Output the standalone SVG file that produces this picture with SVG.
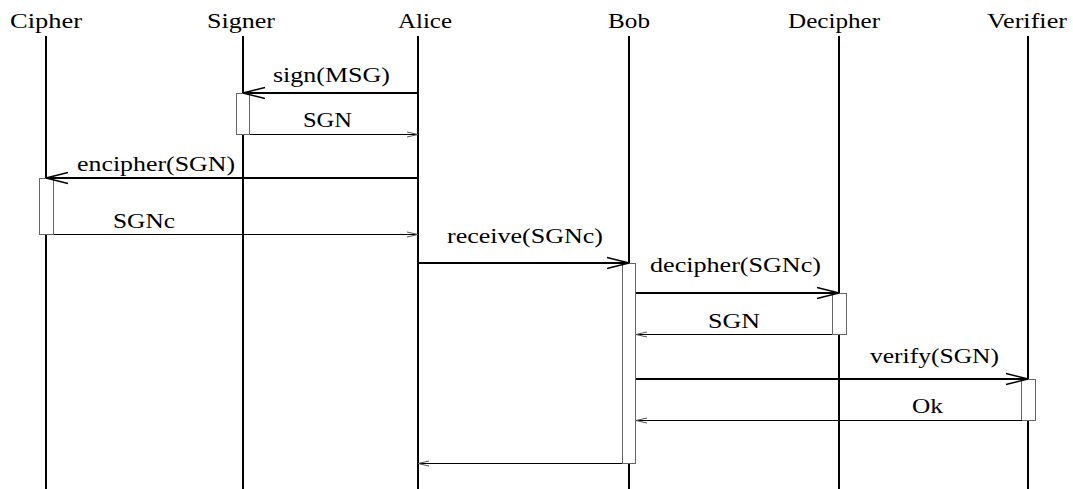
<svg xmlns="http://www.w3.org/2000/svg" width="1073" height="489" viewBox="0 0 1073 489">
  <style>
    text { font-size: 22px; fill: #000; }
    .life { stroke: #000; stroke-width: 2; }
    .act { fill: #fff; stroke: #666; stroke-width: 1; }
    .call { stroke: #000; stroke-width: 2; fill: none; marker-end: url(#callHead); }
    .ret { stroke: #000; stroke-width: 1; fill: none; marker-end: url(#retHead); }
  </style>
  <defs>
    <marker id="callHead" markerUnits="userSpaceOnUse" orient="auto" markerWidth="30" markerHeight="16" refX="24" refY="8" viewBox="0 0 30 16" overflow="visible">
      <path d="M 2 2.5 L 24 8 L 2 13.5" fill="none" stroke="#000" stroke-width="1.5"/>
    </marker>
    <marker id="retHead" markerUnits="userSpaceOnUse" orient="auto" markerWidth="16" markerHeight="8" refX="12" refY="4" viewBox="0 0 16 8" overflow="visible">
      <path d="M 1 1.5 L 12 4 L 1 6.5" fill="none" stroke="#555" stroke-width="1"/>
    </marker>
  </defs>
  <rect width="1073" height="489" fill="#fff"/>

  <g font-family="'Liberation Serif', 'Times New Roman', 'DejaVu Serif', serif">
  <!-- participants -->
  <g id="cipher">
    <text x="10" y="28" textLength="72" lengthAdjust="spacingAndGlyphs">Cipher</text>
    <line class="life" x1="46" y1="36" x2="46" y2="489"/>
  </g>
  <g id="signer">
    <text x="207" y="28" textLength="68" lengthAdjust="spacingAndGlyphs">Signer</text>
    <line class="life" x1="243" y1="36" x2="243" y2="489"/>
  </g>
  <g id="alice">
    <text x="398" y="28" textLength="54" lengthAdjust="spacingAndGlyphs">Alice</text>
    <line class="life" x1="418" y1="36" x2="418" y2="489"/>
  </g>
  <g id="bob">
    <text x="608" y="28" textLength="42" lengthAdjust="spacingAndGlyphs">Bob</text>
    <line class="life" x1="629" y1="36" x2="629" y2="489"/>
  </g>
  <g id="decipher">
    <text x="788" y="28" textLength="92" lengthAdjust="spacingAndGlyphs">Decipher</text>
    <line class="life" x1="839" y1="36" x2="839" y2="489"/>
  </g>
  <g id="verifier">
    <text x="987" y="28" textLength="80" lengthAdjust="spacingAndGlyphs">Verifier</text>
    <line class="life" x1="1028" y1="36" x2="1028" y2="489"/>
  </g>

  <!-- activation bars -->
  <g id="activations">
    <rect class="act" x="236.5" y="93.5" width="13" height="41"/>
    <rect class="act" x="39.5" y="178.5" width="14" height="56"/>
    <rect class="act" x="622.5" y="263.5" width="13" height="200"/>
    <rect class="act" x="832.5" y="293.5" width="14" height="41"/>
    <rect class="act" x="1021.5" y="379.5" width="14" height="41"/>
  </g>

  <!-- messages -->
  <g id="connectors">
    <line class="call" x1="418" y1="93" x2="243" y2="93"/>
    <line class="ret" x1="250" y1="134.5" x2="418" y2="134.5"/>
    <line class="call" x1="418" y1="178" x2="46" y2="178"/>
    <line class="ret" x1="54" y1="234.5" x2="418" y2="234.5"/>
    <line class="call" x1="418" y1="263" x2="629" y2="263"/>
    <line class="call" x1="636" y1="293" x2="839" y2="293"/>
    <line class="ret" x1="832" y1="334.5" x2="636" y2="334.5"/>
    <line class="call" x1="636" y1="379" x2="1028" y2="379"/>
    <line class="ret" x1="1022" y1="420.5" x2="636" y2="420.5"/>
    <line class="ret" x1="622" y1="463.5" x2="418" y2="463.5"/>
  </g>

  <g id="labels">
    <text x="273" y="82" textLength="117" lengthAdjust="spacingAndGlyphs">sign(MSG)</text>
    <text x="303" y="127" textLength="49" lengthAdjust="spacingAndGlyphs">SGN</text>
    <text x="77" y="171" textLength="158" lengthAdjust="spacingAndGlyphs">encipher(SGN)</text>
    <text x="113" y="228" textLength="62" lengthAdjust="spacingAndGlyphs">SGNc</text>
    <text x="447" y="243" textLength="156" lengthAdjust="spacingAndGlyphs">receive(SGNc)</text>
    <text x="650" y="272" textLength="171" lengthAdjust="spacingAndGlyphs">decipher(SGNc)</text>
    <text x="708" y="328" textLength="52" lengthAdjust="spacingAndGlyphs">SGN</text>
    <text x="870" y="363" textLength="129" lengthAdjust="spacingAndGlyphs">verify(SGN)</text>
    <text x="912" y="413" textLength="31" lengthAdjust="spacingAndGlyphs">Ok</text>
  </g>
  </g>
</svg>
